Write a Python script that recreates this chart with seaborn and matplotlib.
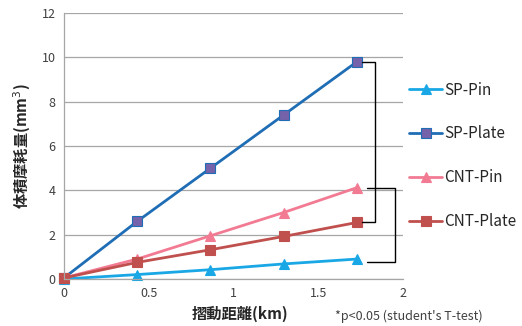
import pandas as pd
import seaborn as sns
import matplotlib.pyplot as plt

distance = [0, 0.432, 0.864, 1.296, 1.728]
sp_pin = [0.0, 0.2, 0.42, 0.68, 0.9]
sp_plate = [0.05, 2.6, 5.0, 7.4, 9.8]
cnt_pin = [0.05, 0.9, 1.95, 3.0, 4.12]
cnt_plate = [0.05, 0.75, 1.32, 1.92, 2.55]
series_names = ['SP-Pin', 'SP-Plate', 'CNT-Pin', 'CNT-Plate']

df = pd.DataFrame({
    'distance': distance * 4,
    'wear': sp_pin + sp_plate + cnt_pin + cnt_plate,
    'series': [n for n in series_names for _ in distance],
})

sns.set_theme(style='white')
plt.rcParams['font.family'] = ['Noto Sans CJK JP', 'DejaVu Sans']

palette = {'SP-Pin': '#1aa7e6', 'SP-Plate': '#1f6db5',
           'CNT-Pin': '#f27b93', 'CNT-Plate': '#c0504d'}
markers = {'SP-Pin': '^', 'SP-Plate': 's', 'CNT-Pin': '^', 'CNT-Plate': 's'}

fig = plt.figure(figsize=(5.22, 3.26), dpi=100)
ax = fig.add_axes([64 / 522, 1 - 279 / 326, 339 / 522, 266 / 326])
sns.lineplot(data=df, x='distance', y='wear', hue='series', style='series',
             palette=palette, markers=markers, dashes=False, linewidth=2,
             markersize=6.5, markeredgewidth=0.8, ax=ax, legend=False)

lines = ax.get_lines()
for line, name in zip(lines, series_names):
    line.set_markeredgecolor(palette[name])
    line.set_markerfacecolor('#7462ab' if name == 'SP-Plate' else palette[name])
    line.set_clip_on(False)
    line.set_label(name)

ax.set_xlim(0, 2)
ax.set_ylim(0, 12)
ax.set_xticks([0, 0.5, 1, 1.5, 2])
ax.set_xticklabels(['0', '0.5', '1', '1.5', '2'])
ax.set_yticks(range(0, 13, 2))
ax.tick_params(axis='both', length=0, labelsize=9, labelcolor='#404040', pad=6)
ax.yaxis.grid(True, color='#a6a6a6', linewidth=0.9)
for s in ['top', 'right']:
    ax.spines[s].set_visible(False)
for s in ['left', 'bottom']:
    ax.spines[s].set_color('#a6a6a6')
    ax.spines[s].set_linewidth(0.9)

ax.set_xlabel('摺動距離(km)', fontsize=11, fontweight='bold', labelpad=3)
ax.xaxis.set_label_coords(0.52, -0.1)
ax.set_ylabel('体積摩耗量(mm$^3$)', fontsize=11, fontweight='bold', labelpad=6)

# significance brackets
ax.plot([1.757, 1.834, 1.834, 1.757], [sp_plate[-1], sp_plate[-1], cnt_plate[-1], cnt_plate[-1]],
        color='black', linewidth=1, clip_on=False)
ax.plot([1.787, 1.953, 1.953, 1.787], [cnt_pin[-1], cnt_pin[-1], sp_pin[-1] - 0.15, sp_pin[-1] - 0.15],
        color='black', linewidth=1, clip_on=False)

fig.legend(handles=lines, labels=series_names, loc='upper left',
           bbox_to_anchor=(395 / 522, 1 - 68 / 326), frameon=False,
           fontsize=11, labelspacing=1.75, handlelength=2.2, handletextpad=0.1)

fig.text(335 / 522, 1 - 316 / 326, "*p<0.05 (student's T-test)", fontsize=9,
         color='#404040', va='center')

fig.savefig('out.png', dpi=100)
